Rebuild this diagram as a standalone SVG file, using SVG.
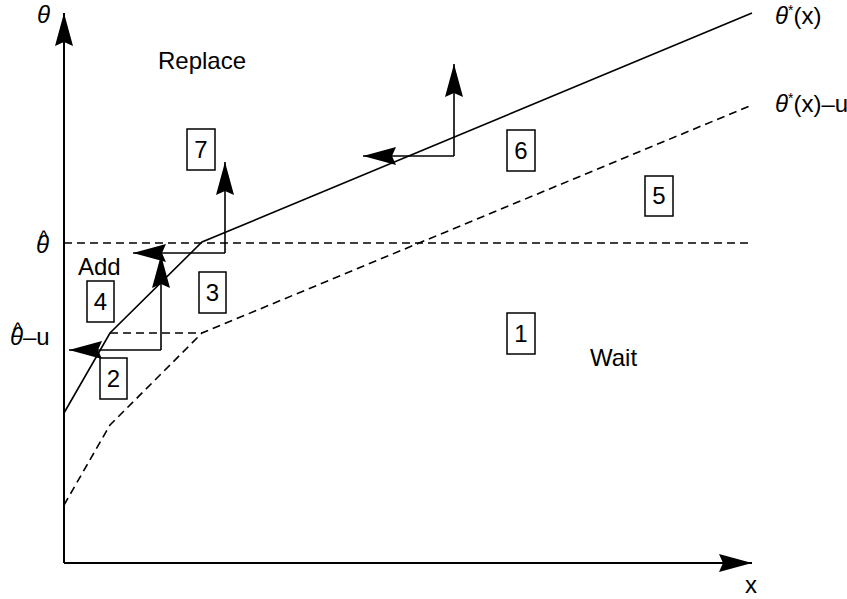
<svg xmlns="http://www.w3.org/2000/svg" width="847" height="599" viewBox="0 0 847 599">
  <style>
    text { font-family: "Liberation Sans", Arial, sans-serif; font-size: 24px; fill: #000; }
    .it { font-style: italic; }
    .sup { font-size: 14px; }
    .hat { font-size: 20px; }
    .box rect { fill: #fff; stroke: #000; stroke-width: 1.5; }
    .box text { text-anchor: middle; }
    .axis { stroke: #000; stroke-width: 2; fill: none; }
    .solid { stroke: #000; stroke-width: 1.6; fill: none; }
    .dash { stroke: #000; stroke-width: 1.6; fill: none; stroke-dasharray: 8 5; }
    .move { stroke: #000; stroke-width: 1.6; fill: none; marker-end: url(#ah); }
  </style>
  <defs>
    <marker id="ah" viewBox="0 0 33 18" markerWidth="33" markerHeight="18" refX="33" refY="9" orient="auto" markerUnits="userSpaceOnUse">
      <path d="M0,0 L33,9 L0,18 L4,9 Z" fill="#000"/>
    </marker>
  </defs>

  <rect width="847" height="599" fill="#fff"/>

  <g id="connectors">
    <!-- axes -->
    <path class="axis" d="M64,563 L64,13" marker-end="url(#ah)"/>
    <path class="axis" d="M64,563 L752,563" marker-end="url(#ah)"/>
    <!-- threshold levels -->
    <path class="dash" d="M64,243 L748,243"/>
    <path class="dash" d="M110,333 L202,333"/>
    <!-- theta*(x) and theta*(x)-u -->
    <path class="solid" d="M64,413 L110,333 L202,242 L752,13"/>
    <path class="dash" d="M64,505 L110,425 L202,333 L752,105"/>
    <!-- decision moves -->
    <path class="move" d="M161,350 L161,255"/>
    <path class="move" d="M161,350 L69,350"/>
    <path class="move" d="M225,253 L225,162"/>
    <path class="move" d="M225,253 L133,253"/>
    <path class="move" d="M454,156 L454,64"/>
    <path class="move" d="M454,156 L363,156"/>
  </g>

  <g id="axis-labels">
    <text class="it" x="37" y="23">θ</text>
    <text x="751" y="593" text-anchor="middle">x</text>
    <!-- theta-hat, hat set above the glyph -->
    <text x="36" y="253"><tspan class="it">θ</tspan><tspan class="hat" dx="-10" dy="-8.5">^</tspan></text>
    <text x="10" y="345"><tspan class="it">θ</tspan><tspan class="hat" dx="-10" dy="-8.5">^</tspan><tspan dx="0.6" dy="8.5">–u</tspan></text>
    <text x="775" y="24"><tspan class="it">θ</tspan><tspan class="sup" dy="-9">*</tspan><tspan dy="9">(x)</tspan></text>
    <text x="775" y="112"><tspan class="it">θ</tspan><tspan class="sup" dy="-9">*</tspan><tspan dy="9">(x)–u</tspan></text>
  </g>

  <g id="region-labels">
    <text x="158" y="69">Replace</text>
    <text x="78" y="275">Add</text>
    <text x="590" y="366">Wait</text>
  </g>

  <g id="region-1" class="box"><rect x="507" y="313" width="28" height="41"/><text x="521" y="342">1</text></g>
  <g id="region-2" class="box"><rect x="100" y="358" width="27" height="41"/><text x="113.5" y="387">2</text></g>
  <g id="region-3" class="box"><rect x="199" y="272" width="27" height="41"/><text x="212.5" y="301">3</text></g>
  <g id="region-4" class="box"><rect x="87" y="281" width="27" height="41"/><text x="100.5" y="310">4</text></g>
  <g id="region-5" class="box"><rect x="645" y="176" width="28" height="40"/><text x="659" y="204">5</text></g>
  <g id="region-6" class="box"><rect x="507" y="130" width="28" height="41"/><text x="521" y="159">6</text></g>
  <g id="region-7" class="box"><rect x="187" y="129" width="28" height="41"/><text x="201" y="158">7</text></g>
</svg>
